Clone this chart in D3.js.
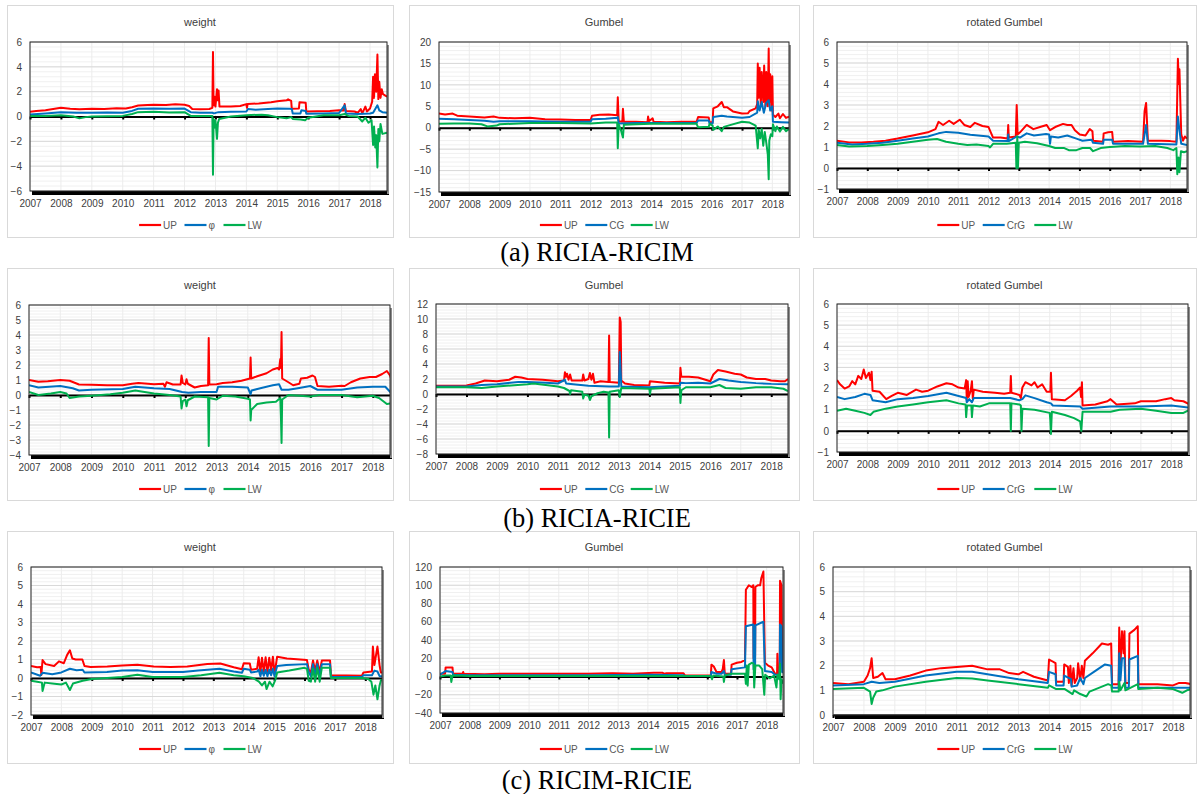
<!DOCTYPE html>
<html>
<head>
<meta charset="utf-8">
<script src="https://cdn.jsdelivr.net/npm/d3@7"></script>
<style>
  body { margin: 0; background: #fff; }
  svg { display: block; font-family: "Liberation Sans", Arial, sans-serif; }
</style>
</head>
<body>
<svg id="fig" width="1198" height="794"></svg>
<script>
// ---------- data: [year, value] ----------
// (a) RICIA-RICIM, weight
var aWeightUP = [[2007,0.38],[2007.2,0.45],[2007.5,0.5],[2007.8,0.62],[2008,0.7],[2008.3,0.62],[2008.6,0.58],[2009,0.62],[2009.4,0.6],[2009.8,0.66],[2010.1,0.64],[2010.3,0.75],[2010.5,0.88],[2010.8,0.92],[2011,0.95],[2011.4,0.92],[2011.7,0.98],[2012,0.95],[2012.15,0.85],[2012.25,0.6],[2012.5,0.58],[2012.8,0.6],[2012.9,0.7],[2012.92,5.2],[2012.94,0.9],[2012.97,1.6],[2013.0,0.8],[2013.05,2.2],[2013.08,1.3],[2013.1,2.1],[2013.13,0.8],[2013.5,0.8],[2013.8,0.85],[2014,1.0],[2014.02,0.7],[2014.04,1.0],[2014.4,1.05],[2014.8,1.15],[2015,1.22],[2015.3,1.3],[2015.35,1.38],[2015.45,1.25],[2015.47,0.62],[2015.7,0.65],[2015.72,1.15],[2015.92,1.1],[2015.94,0.4],[2016.3,0.42],[2016.7,0.45],[2017,0.5],[2017.15,0.48],[2017.18,1.0],[2017.22,0.45],[2017.5,0.4],[2017.6,0.3],[2017.7,0.6],[2017.75,0.25],[2017.85,0.8],[2017.9,0.4],[2018,0.65],[2018.07,1.2],[2018.1,3.2],[2018.13,1.5],[2018.16,3.4],[2018.2,2.0],[2018.24,5.0],[2018.27,1.4],[2018.3,2.8],[2018.34,1.5],[2018.38,2.2],[2018.42,1.8],[2018.55,1.6]];
var aWeightPhi = [[2007,0.16],[2007.5,0.25],[2008,0.35],[2008.5,0.3],[2009,0.3],[2009.5,0.32],[2010,0.3],[2010.3,0.45],[2010.5,0.62],[2011,0.65],[2011.5,0.62],[2012,0.64],[2012.2,0.35],[2012.5,0.3],[2012.9,0.3],[2012.95,0.25],[2013.1,0.35],[2013.5,0.38],[2014,0.4],[2014.05,0.6],[2014.3,0.55],[2014.7,0.6],[2015,0.65],[2015.4,0.62],[2015.47,0.6],[2015.5,0.24],[2015.75,0.25],[2015.78,0.5],[2015.92,0.45],[2015.94,0.22],[2016.5,0.25],[2017,0.28],[2017.18,0.9],[2017.22,0.25],[2017.6,0.2],[2018,0.25],[2018.1,0.3],[2018.24,0.9],[2018.3,0.5],[2018.4,0.35],[2018.55,0.3]];
var aWeightLW = [[2007,0.05],[2007.5,0.05],[2008,0.1],[2008.4,0.0],[2008.6,-0.15],[2008.8,-0.05],[2009,0.0],[2009.5,0.02],[2010,0.05],[2010.3,0.2],[2010.5,0.35],[2011,0.38],[2011.5,0.32],[2012,0.35],[2012.2,0.05],[2012.5,0.05],[2012.9,0.05],[2012.92,-4.7],[2012.94,-0.2],[2012.97,-0.9],[2013.0,-0.3],[2013.05,-1.8],[2013.08,-0.5],[2013.12,-0.2],[2013.5,0.0],[2014,0.1],[2014.5,0.15],[2014.7,0.1],[2015,-0.05],[2015.3,-0.15],[2015.45,-0.05],[2015.5,-0.2],[2015.75,-0.25],[2015.9,-0.3],[2016,-0.1],[2016.5,0.1],[2017,0.1],[2017.18,0.2],[2017.3,0.05],[2017.6,0.0],[2017.75,-0.4],[2017.85,-0.1],[2017.95,-0.5],[2018.05,-0.3],[2018.1,-2.3],[2018.13,-0.8],[2018.17,-2.5],[2018.2,-1.5],[2018.24,-4.1],[2018.27,-1.0],[2018.3,-2.0],[2018.34,-0.6],[2018.4,-1.4],[2018.55,-1.3]];

// (a) RICIA-RICIM, Gumbel
var aGumbelUP = [[2007,3.3],[2007.2,3.1],[2007.45,3.3],[2007.6,2.8],[2008,2.6],[2008.5,2.4],[2008.8,2.6],[2009,2.3],[2009.5,2.2],[2010,2.3],[2010.5,2.0],[2011,1.9],[2011.5,1.8],[2012,1.8],[2012.05,2.8],[2012.3,3.0],[2012.6,3.1],[2012.88,2.9],[2012.9,7.1],[2012.93,1.5],[2013.05,1.4],[2013.07,4.4],[2013.1,1.4],[2013.5,1.4],[2013.88,1.3],[2013.9,2.6],[2013.93,1.5],[2014.05,2.2],[2014.08,1.4],[2014.5,1.3],[2015,1.4],[2015.5,1.4],[2015.55,2.5],[2015.9,2.4],[2015.93,1.3],[2016.03,1.3],[2016.05,4.5],[2016.2,5.0],[2016.33,6.0],[2016.4,4.8],[2016.5,4.8],[2016.7,3.8],[2017,3.3],[2017.2,3.4],[2017.25,3.9],[2017.45,4.5],[2017.5,5.5],[2017.52,15],[2017.55,7],[2017.58,14],[2017.62,5],[2017.65,13],[2017.7,6],[2017.73,14.5],[2017.77,5],[2017.8,13],[2017.85,5],[2017.88,18.5],[2017.9,6],[2017.93,12.5],[2017.97,4],[2018.0,12],[2018.02,3],[2018.1,2.5],[2018.2,3.3],[2018.25,2.2],[2018.35,3.2],[2018.45,2.3],[2018.55,2.6]];
var aGumbelCG = [[2007,2.1],[2007.5,2.0],[2008,1.8],[2008.5,1.6],[2008.8,1.4],[2009,1.5],[2010,1.5],[2011,1.4],[2012,1.4],[2012.05,2.0],[2012.5,2.1],[2012.88,2.3],[2012.9,2.5],[2012.93,1.0],[2013.5,1.1],[2014,1.1],[2015,1.1],[2015.5,1.1],[2015.55,1.7],[2015.9,1.7],[2015.93,1.0],[2016.03,1.0],[2016.05,2.5],[2016.33,2.8],[2016.5,2.6],[2017,2.3],[2017.25,2.5],[2017.5,3.5],[2017.52,6.2],[2017.58,4],[2017.65,6],[2017.72,3.5],[2017.8,5.8],[2017.88,6.4],[2017.93,4],[2018.0,5],[2018.02,1.4],[2018.3,1.3],[2018.55,1.2]];
var aGumbelLW = [[2007,0.9],[2007.5,1.0],[2008,1.0],[2008.4,0.8],[2008.6,0.3],[2008.9,0.5],[2009,0.8],[2010,1.1],[2011,1.1],[2012,1.0],[2012.5,1.2],[2012.88,1.2],[2012.9,-4.8],[2012.93,0.8],[2013.0,-0.5],[2013.07,-2.3],[2013.1,0.7],[2013.5,0.8],[2014,0.9],[2015,0.9],[2015.5,0.9],[2015.55,0.1],[2015.9,0.2],[2015.93,0.9],[2016.03,0.5],[2016.05,-0.5],[2016.2,0.3],[2016.33,-0.8],[2016.4,0.2],[2016.6,0.6],[2017,1.4],[2017.25,1.2],[2017.45,0.5],[2017.52,-4.8],[2017.55,-0.5],[2017.6,-2.5],[2017.65,-0.3],[2017.7,-4.2],[2017.75,-1],[2017.8,-3.5],[2017.85,-6.2],[2017.88,-12],[2017.9,-3],[2017.95,-1.5],[2018.0,-2],[2018.02,0.8],[2018.1,-0.8],[2018.15,0.3],[2018.25,-0.9],[2018.35,0.2],[2018.45,-0.8],[2018.55,-0.3]];

// (a) RICIA-RICIM, rotated Gumbel
var aRotUP = [[2007,1.3],[2007.4,1.22],[2007.8,1.22],[2008.2,1.25],[2008.6,1.3],[2009,1.4],[2009.5,1.55],[2010,1.7],[2010.25,1.85],[2010.35,2.2],[2010.5,2.05],[2010.7,2.25],[2010.85,2.1],[2011.05,2.3],[2011.2,2.05],[2011.4,1.95],[2011.55,2.15],[2011.8,2.0],[2012.0,1.95],[2012.15,1.45],[2012.4,1.45],[2012.63,1.4],[2012.65,2.05],[2012.67,1.45],[2012.9,1.5],[2012.93,3.0],[2012.96,1.6],[2013.04,1.7],[2013.26,2.05],[2013.48,1.85],[2013.7,1.95],[2013.92,2.05],[2014.03,1.8],[2014.2,1.95],[2014.46,2.1],[2014.6,2.05],[2014.74,2.05],[2014.85,1.8],[2015.01,1.6],[2015.2,1.55],[2015.34,1.85],[2015.43,1.75],[2015.45,1.3],[2015.78,1.25],[2015.8,1.65],[2015.95,1.7],[2016.08,1.72],[2016.11,1.25],[2016.6,1.28],[2017.1,1.25],[2017.15,2.7],[2017.2,3.1],[2017.26,1.3],[2017.7,1.3],[2018.0,1.28],[2018.2,1.25],[2018.25,5.2],[2018.28,4.0],[2018.3,4.7],[2018.36,1.6],[2018.42,1.3],[2018.48,1.5],[2018.55,1.4]];
var aRotCrG = [[2007,1.2],[2007.5,1.12],[2008,1.15],[2008.5,1.2],[2009,1.3],[2009.5,1.4],[2010,1.5],[2010.35,1.65],[2010.6,1.72],[2011,1.68],[2011.4,1.58],[2012,1.5],[2012.15,1.3],[2012.63,1.28],[2012.65,1.6],[2012.67,1.28],[2012.93,1.5],[2013.04,1.45],[2013.26,1.65],[2013.5,1.55],[2013.9,1.62],[2014.0,1.6],[2014.03,1.15],[2014.06,1.5],[2014.3,1.45],[2014.6,1.55],[2014.9,1.4],[2015.1,1.3],[2015.4,1.35],[2015.45,1.2],[2015.78,1.15],[2015.8,1.35],[2016.08,1.35],[2016.11,1.15],[2017.1,1.15],[2017.2,2.05],[2017.26,1.15],[2018.2,1.12],[2018.25,2.45],[2018.3,1.8],[2018.36,1.15],[2018.55,1.1]];
var aRotLW = [[2007,1.1],[2007.4,1.02],[2008,1.05],[2008.5,1.1],[2009,1.15],[2009.5,1.25],[2010,1.35],[2010.3,1.38],[2010.6,1.25],[2011,1.15],[2011.3,1.1],[2011.6,1.12],[2012,1.05],[2012.05,0.98],[2012.15,1.15],[2012.6,1.15],[2012.9,1.2],[2012.92,0.0],[2012.95,1.5],[2012.97,0.0],[2013.0,1.2],[2013.2,1.25],[2013.6,1.18],[2014,1.05],[2014.2,0.95],[2014.5,0.95],[2014.65,0.85],[2014.9,0.85],[2015.1,0.95],[2015.35,0.95],[2015.45,0.8],[2015.7,0.95],[2016,1.0],[2016.5,1.05],[2017,1.02],[2017.5,1.05],[2017.9,0.95],[2018.1,0.85],[2018.2,0.95],[2018.23,-0.3],[2018.27,0.5],[2018.3,-0.2],[2018.35,0.8],[2018.45,0.75],[2018.55,0.8]];

// (b) RICIA-RICIE, weight
var bWeightUP = [[2007,1.0],[2007.3,0.88],[2007.6,0.92],[2008,1.0],[2008.3,0.95],[2008.6,0.7],[2009,0.68],[2009.5,0.65],[2010,0.65],[2010.3,0.75],[2010.5,0.8],[2011,0.72],[2011.3,0.75],[2011.35,0.55],[2011.4,0.85],[2011.6,0.7],[2011.85,0.7],[2011.88,1.3],[2011.92,0.8],[2012.0,0.7],[2012.04,1.05],[2012.08,0.75],[2012.3,0.5],[2012.5,0.6],[2012.73,0.65],[2012.75,3.8],[2012.77,0.7],[2013,0.72],[2013.2,0.8],[2013.5,0.85],[2013.8,0.95],[2014.07,1.1],[2014.09,2.5],[2014.11,1.1],[2014.3,1.25],[2014.6,1.45],[2014.8,1.7],[2014.95,1.8],[2015.0,1.7],[2015.04,2.4],[2015.06,1.8],[2015.08,4.2],[2015.1,1.1],[2015.3,0.85],[2015.45,0.65],[2015.65,0.75],[2015.7,1.1],[2015.9,1.15],[2016.07,1.3],[2016.15,1.2],[2016.23,0.6],[2016.6,0.55],[2017,0.62],[2017.1,0.6],[2017.3,0.85],[2017.6,1.1],[2017.9,1.2],[2018.1,1.2],[2018.3,1.4],[2018.45,1.6],[2018.55,1.3],[2018.6,1.0]];
var bWeightPhi = [[2007,0.65],[2007.3,0.5],[2008,0.6],[2008.4,0.45],[2008.6,0.3],[2009,0.35],[2010,0.4],[2010.4,0.55],[2011,0.45],[2011.5,0.4],[2011.9,0.2],[2012.1,0.15],[2012.5,0.2],[2013.0,0.2],[2013.05,0.55],[2013.5,0.55],[2014.0,0.5],[2014.09,0.05],[2014.12,0.3],[2014.4,0.45],[2014.8,0.65],[2015.0,0.72],[2015.08,0.35],[2015.3,0.35],[2015.6,0.45],[2016.0,0.6],[2016.23,0.35],[2017.0,0.35],[2017.5,0.5],[2018.0,0.55],[2018.4,0.55],[2018.6,0.1]];
var bWeightLW = [[2007,0.2],[2007.3,0.0],[2007.7,0.1],[2008,0.2],[2008.2,0.1],[2008.3,-0.2],[2008.6,-0.1],[2009,-0.05],[2009.6,0.05],[2010,0.15],[2010.4,0.3],[2011,0.1],[2011.5,0.0],[2011.85,-0.1],[2011.88,-0.9],[2011.92,-0.4],[2012.0,-0.3],[2012.04,-0.75],[2012.08,-0.35],[2012.3,-0.1],[2012.73,-0.15],[2012.75,-3.4],[2012.77,-0.2],[2013.0,-0.3],[2013.2,-0.05],[2013.6,-0.1],[2014.0,-0.25],[2014.07,-0.3],[2014.09,-1.7],[2014.11,-1.0],[2014.3,-0.6],[2014.6,-0.5],[2014.9,-0.45],[2015.04,-0.2],[2015.06,-1.4],[2015.08,-3.2],[2015.1,-0.3],[2015.3,0.0],[2016,-0.1],[2016.3,0.0],[2017,0.0],[2017.5,-0.15],[2018,-0.05],[2018.2,-0.2],[2018.45,-0.6],[2018.6,-0.55]];

// (b) RICIA-RICIE, Gumbel
var bGumbelUP = [[2007,1.1],[2007.5,1.1],[2008,1.15],[2008.3,1.4],[2008.6,1.8],[2009,1.7],[2009.4,1.9],[2009.6,2.3],[2009.8,2.2],[2010,2.0],[2010.5,1.9],[2011,1.7],[2011.2,1.8],[2011.23,2.9],[2011.27,2.3],[2011.3,2.7],[2011.35,1.9],[2011.4,2.6],[2011.45,1.8],[2011.8,1.8],[2011.83,2.6],[2011.87,1.8],[2012.0,2.0],[2012.05,2.8],[2012.1,1.9],[2012.15,2.7],[2012.2,1.5],[2012.4,1.7],[2012.66,1.6],[2012.68,7.8],[2012.7,1.6],[2013.0,1.5],[2013.03,10.2],[2013.06,9.6],[2013.08,1.8],[2013.2,1.4],[2013.5,1.2],[2014.0,1.15],[2014.02,1.7],[2014.5,1.5],[2015.0,1.4],[2015.02,3.5],[2015.05,2.3],[2015.3,2.3],[2015.6,2.2],[2016,1.7],[2016.1,2.6],[2016.25,3.2],[2016.5,3.0],[2016.8,2.7],[2017.0,2.6],[2017.2,2.2],[2017.5,2.0],[2017.8,2.0],[2018.0,1.8],[2018.3,1.7],[2018.45,1.7],[2018.55,2.0]];
var bGumbelCG = [[2007,1.0],[2008,1.0],[2008.5,1.2],[2009,1.3],[2009.7,1.6],[2010,1.6],[2010.6,1.5],[2011,1.4],[2011.23,1.9],[2011.27,1.4],[2011.5,1.3],[2012,1.1],[2012.68,1.0],[2013.0,1.0],[2013.03,5.6],[2013.06,3.0],[2013.08,1.0],[2014,0.9],[2014.5,1.0],[2015,1.1],[2015.02,1.5],[2015.2,1.45],[2015.6,1.5],[2016,1.4],[2016.3,2.0],[2016.6,1.8],[2017,1.6],[2017.5,1.45],[2018,1.35],[2018.55,1.3]];
var bGumbelLW = [[2007,0.9],[2008,0.9],[2008.5,0.8],[2009,1.0],[2010,1.3],[2010.2,1.4],[2010.6,1.2],[2011,1.0],[2011.2,0.8],[2011.38,0.4],[2011.4,0.0],[2011.43,0.5],[2011.8,0.3],[2011.83,-0.6],[2011.87,-0.1],[2012.0,-0.2],[2012.05,-0.8],[2012.1,-0.3],[2012.3,0.1],[2012.5,0.3],[2012.66,0.2],[2012.68,-5.8],[2012.7,0.3],[2013.0,0.5],[2013.03,-0.4],[2013.08,0.8],[2014,0.7],[2014.02,0.0],[2014.05,0.7],[2015,0.9],[2015.02,-1.2],[2015.05,0.5],[2015.2,0.9],[2016,0.9],[2016.3,1.2],[2016.5,0.8],[2017,0.7],[2017.5,0.9],[2018,0.9],[2018.4,0.7],[2018.55,0.4]];

// (b) RICIA-RICIE, rotated Gumbel
var bRotUP = [[2007,2.4],[2007.1,2.2],[2007.25,2.0],[2007.4,2.1],[2007.5,2.35],[2007.6,2.2],[2007.7,2.6],[2007.8,2.45],[2007.88,2.9],[2007.95,2.5],[2008.05,2.75],[2008.1,2.4],[2008.14,2.8],[2008.17,1.9],[2008.4,1.85],[2008.62,1.5],[2008.8,1.65],[2009.0,1.8],[2009.3,1.7],[2009.6,1.95],[2009.8,1.85],[2010.0,1.9],[2010.3,2.1],[2010.6,2.25],[2010.8,2.2],[2011.0,2.05],[2011.2,2.0],[2011.25,2.4],[2011.27,1.5],[2011.3,2.35],[2011.33,1.6],[2011.4,1.9],[2011.44,2.35],[2011.47,1.5],[2011.5,1.95],[2011.8,1.85],[2012.2,1.8],[2012.5,1.75],[2012.7,1.8],[2012.72,2.6],[2012.74,1.8],[2013.0,1.7],[2013.05,1.55],[2013.1,2.05],[2013.2,2.3],[2013.4,2.15],[2013.5,2.3],[2013.6,2.05],[2013.75,2.2],[2013.9,1.85],[2014.02,1.85],[2014.04,2.75],[2014.07,1.5],[2014.5,1.45],[2014.7,1.65],[2014.9,1.9],[2015.0,2.05],[2015.03,1.6],[2015.06,2.3],[2015.08,1.2],[2015.5,1.25],[2015.9,1.4],[2016.0,1.5],[2016.2,1.25],[2016.8,1.3],[2017.0,1.4],[2017.5,1.4],[2017.8,1.5],[2018.0,1.55],[2018.1,1.45],[2018.4,1.4],[2018.6,1.25]];
var bRotCrG = [[2007,1.6],[2007.25,1.5],[2007.6,1.6],[2007.9,1.75],[2008.1,1.7],[2008.17,1.45],[2008.6,1.35],[2009,1.5],[2009.5,1.55],[2010,1.65],[2010.6,1.8],[2011,1.65],[2011.25,1.55],[2011.27,1.35],[2011.35,1.5],[2011.44,1.35],[2011.5,1.55],[2012,1.55],[2012.7,1.55],[2013,1.45],[2013.1,1.5],[2013.2,1.68],[2013.5,1.55],[2013.9,1.35],[2014.04,1.3],[2014.1,1.2],[2015,1.15],[2015.08,1.05],[2016,1.15],[2017,1.15],[2018,1.2],[2018.6,1.1]];
var bRotLW = [[2007,0.95],[2007.3,1.05],[2007.6,0.95],[2007.9,0.85],[2008.1,0.75],[2008.2,0.9],[2008.6,1.05],[2009,1.15],[2009.5,1.25],[2010,1.35],[2010.6,1.45],[2011,1.3],[2011.23,1.25],[2011.25,0.65],[2011.28,1.2],[2011.42,1.2],[2011.44,0.65],[2011.47,1.2],[2011.7,1.15],[2012,1.3],[2012.7,1.3],[2012.72,0.0],[2012.74,1.3],[2013.0,1.25],[2013.05,1.2],[2013.07,0.0],[2013.1,1.05],[2013.5,1.0],[2014.0,0.85],[2014.02,0.5],[2014.04,-0.15],[2014.07,0.9],[2014.5,0.75],[2014.8,0.6],[2015.0,0.45],[2015.04,0.0],[2015.08,0.9],[2016,0.9],[2016.3,1.0],[2017,1.05],[2017.5,0.95],[2018,0.85],[2018.4,0.85],[2018.6,1.0]];

// (c) RICIM-RICIE, weight
var cWeightUP = [[2007,0.65],[2007.2,0.58],[2007.32,0.6],[2007.34,0.16],[2007.38,0.97],[2007.48,0.75],[2007.76,0.65],[2007.92,0.9],[2008.08,0.8],[2008.19,1.25],[2008.28,1.5],[2008.36,1.05],[2008.47,1.0],[2008.69,1.0],[2008.76,0.65],[2008.96,0.6],[2009.51,0.62],[2010.0,0.68],[2010.5,0.72],[2011.04,0.62],[2011.59,0.6],[2012.14,0.62],[2012.8,0.76],[2013.23,0.78],[2013.67,0.58],[2013.94,0.47],[2014.0,0.8],[2014.2,0.78],[2014.24,0.45],[2014.44,0.5],[2014.49,1.12],[2014.55,0.3],[2014.6,1.1],[2014.66,0.35],[2014.72,1.12],[2014.78,0.3],[2014.84,1.1],[2014.9,0.4],[2014.96,1.15],[2015.01,0.3],[2015.04,0.5],[2015.1,1.15],[2015.42,1.05],[2016.08,0.97],[2016.14,0.45],[2016.21,0.3],[2016.28,0.95],[2016.35,0.4],[2016.42,0.95],[2016.5,0.3],[2016.57,0.95],[2016.84,0.95],[2016.87,0.15],[2017.89,0.12],[2017.94,0.3],[2018.22,0.35],[2018.25,1.7],[2018.3,0.7],[2018.36,1.3],[2018.4,1.7],[2018.47,0.7],[2018.51,0.3],[2018.55,0.3]];
var cWeightPhi = [[2007,0.3],[2007.3,0.12],[2007.38,0.28],[2007.7,0.2],[2008.0,0.3],[2008.28,0.5],[2008.5,0.42],[2008.7,0.45],[2008.76,0.3],[2009.5,0.32],[2010,0.4],[2010.5,0.42],[2011,0.32],[2012,0.32],[2012.5,0.4],[2013.2,0.5],[2013.67,0.35],[2013.94,0.28],[2014.0,0.5],[2014.2,0.45],[2014.24,0.3],[2014.44,0.35],[2014.49,0.45],[2014.55,0.1],[2014.6,0.45],[2014.66,0.12],[2014.72,0.45],[2014.78,0.1],[2014.84,0.45],[2014.9,0.15],[2014.96,0.5],[2015.01,0.1],[2015.1,0.65],[2015.4,0.7],[2016.08,0.75],[2016.14,0.3],[2016.21,0.1],[2016.28,0.75],[2016.35,0.1],[2016.42,0.75],[2016.5,0.1],[2016.57,0.75],[2016.84,0.75],[2016.87,0.05],[2017.89,0.05],[2017.94,0.15],[2018.22,0.15],[2018.3,0.4],[2018.4,0.35],[2018.47,0.1],[2018.55,0.1]];
var cWeightLW = [[2007,-0.15],[2007.2,-0.2],[2007.36,-0.25],[2007.38,-0.7],[2007.45,-0.25],[2007.7,-0.3],[2008.0,-0.35],[2008.15,-0.25],[2008.28,-0.65],[2008.38,-0.3],[2008.7,-0.15],[2009.0,-0.05],[2010,0.05],[2010.5,0.18],[2011,0.05],[2012,0.05],[2012.6,0.15],[2013.2,0.28],[2013.67,0.15],[2014.0,0.1],[2014.3,0.0],[2014.5,-0.2],[2014.6,-0.4],[2014.7,-0.2],[2014.75,-0.6],[2014.85,-0.2],[2014.95,-0.45],[2015.04,-0.1],[2015.1,0.3],[2015.5,0.4],[2016.0,0.55],[2016.08,0.5],[2016.14,-0.15],[2016.21,-0.2],[2016.28,0.5],[2016.35,-0.2],[2016.42,0.55],[2016.5,-0.2],[2016.57,0.55],[2016.84,0.55],[2016.87,0.0],[2017.89,0.0],[2018.1,-0.05],[2018.2,-0.2],[2018.27,-0.9],[2018.33,-0.4],[2018.4,-1.15],[2018.47,-0.4],[2018.52,-0.1],[2018.55,-0.15]];

// (c) RICIM-RICIE, Gumbel
var cGumbelUP = [[2007,3],[2007.17,3],[2007.19,10],[2007.42,10],[2007.44,3],[2007.76,3],[2007.78,5],[2007.8,3],[2008.5,2.5],[2009,3],[2010,3],[2011,3],[2012,3],[2012.8,3.5],[2013.5,3],[2014.2,4],[2014.5,4],[2014.55,3],[2014.63,3.5],[2015.2,3.5],[2015.25,1],[2016.12,1],[2016.14,13],[2016.22,11],[2016.31,5],[2016.48,5],[2016.52,8],[2016.56,18],[2016.59,3],[2016.8,3],[2016.82,13],[2017.0,15],[2017.15,16],[2017.27,18],[2017.3,95],[2017.4,100],[2017.5,98],[2017.55,100],[2017.56,20],[2017.61,22],[2017.62,98],[2017.7,100],[2017.78,100],[2017.82,108],[2017.89,115],[2017.94,15],[2018.05,12],[2018.17,10],[2018.28,3],[2018.35,3],[2018.36,25],[2018.38,3],[2018.44,3],[2018.45,105],[2018.5,100],[2018.52,15],[2018.55,8]];
var cGumbelCG = [[2007,2],[2007.19,6],[2007.42,5],[2007.44,2],[2008,1.5],[2010,1.5],[2012,1.5],[2014,1.8],[2015.2,1.5],[2015.25,0.5],[2016.12,0.5],[2016.14,5],[2016.31,3],[2016.48,3],[2016.56,6],[2016.59,2],[2016.8,2],[2016.82,8],[2017.27,10],[2017.3,55],[2017.55,57],[2017.56,8],[2017.61,9],[2017.62,56],[2017.89,60],[2017.94,6],[2018.17,5],[2018.28,2],[2018.44,2],[2018.45,57],[2018.5,55],[2018.52,5],[2018.55,4]];
var cGumbelLW = [[2007,0],[2007.2,1],[2007.36,1],[2007.38,-6],[2007.42,1],[2008,0.5],[2010,0.5],[2012,0.5],[2014,0.5],[2016.12,0.5],[2016.16,-3],[2016.2,1],[2016.54,0],[2016.56,-6],[2016.59,1],[2016.82,3],[2017.27,3],[2017.3,-8],[2017.33,12],[2017.36,-10],[2017.4,13],[2017.5,15],[2017.56,14],[2017.58,-12],[2017.62,12],[2017.75,12],[2017.85,8],[2017.92,-20],[2017.95,2],[2018.1,-2],[2018.25,1],[2018.33,-12],[2018.36,2],[2018.42,-3],[2018.45,14],[2018.47,-25],[2018.5,-3],[2018.55,-8]];

// (c) RICIM-RICIE, rotated Gumbel
var cRotUP = [[2007,1.3],[2007.5,1.25],[2008,1.35],[2008.12,1.6],[2008.2,1.9],[2008.25,2.3],[2008.3,1.5],[2008.45,1.55],[2008.6,1.7],[2008.7,1.45],[2009,1.45],[2009.5,1.6],[2010,1.8],[2010.5,1.9],[2011,1.95],[2011.5,2.0],[2012,1.85],[2012.4,1.85],[2012.7,1.7],[2013,1.65],[2013.15,1.75],[2013.5,1.55],[2013.95,1.4],[2013.99,2.25],[2014.2,2.1],[2014.22,1.35],[2014.46,1.35],[2014.48,2.05],[2014.6,1.95],[2014.63,1.3],[2014.68,2.0],[2014.72,1.2],[2014.78,1.9],[2014.82,1.3],[2014.9,1.5],[2014.93,2.1],[2015.0,1.4],[2015.05,2.0],[2015.1,1.5],[2015.15,2.2],[2015.4,2.5],[2015.7,2.9],[2015.9,2.85],[2016.0,2.9],[2016.03,1.25],[2016.24,1.25],[2016.26,3.55],[2016.3,2.0],[2016.35,3.4],[2016.4,2.5],[2016.43,3.4],[2016.46,1.3],[2016.57,1.3],[2016.59,3.3],[2016.75,3.45],[2016.86,3.6],[2016.88,1.25],[2017.5,1.25],[2018,1.2],[2018.2,1.3],[2018.4,1.3],[2018.6,1.25]];
var cRotCrG = [[2007,1.2],[2008,1.25],[2008.25,1.35],[2008.5,1.3],[2009,1.35],[2010,1.6],[2011,1.75],[2011.5,1.75],[2012,1.65],[2013,1.45],[2013.95,1.3],[2013.99,1.75],[2014.2,1.65],[2014.22,1.2],[2014.46,1.2],[2014.48,1.6],[2014.7,1.45],[2014.72,1.15],[2014.9,1.2],[2015,1.5],[2015.1,1.25],[2015.15,1.5],[2015.5,1.8],[2015.8,2.05],[2016.0,2.0],[2016.03,1.1],[2016.24,1.1],[2016.26,2.5],[2016.3,1.4],[2016.35,2.3],[2016.43,2.3],[2016.46,1.1],[2016.57,1.1],[2016.59,2.25],[2016.86,2.4],[2016.88,1.1],[2018,1.1],[2018.6,1.1]];
var cRotLW = [[2007,1.05],[2008,1.1],[2008.2,0.95],[2008.25,0.45],[2008.3,0.7],[2008.4,0.95],[2008.6,1.0],[2009,1.15],[2010,1.35],[2011,1.5],[2011.5,1.48],[2012,1.4],[2013,1.25],[2013.95,1.1],[2013.99,1.2],[2014.22,1.05],[2014.5,1.05],[2014.75,0.85],[2014.8,1.0],[2015,0.85],[2015.2,0.75],[2015.3,0.95],[2015.5,1.05],[2015.9,1.25],[2016.0,1.2],[2016.03,0.95],[2016.24,0.95],[2016.26,1.35],[2016.3,1.0],[2016.43,1.3],[2016.46,1.0],[2016.86,1.25],[2016.88,1.05],[2017.5,1.1],[2018,1.05],[2018.3,0.9],[2018.45,1.0],[2018.6,1.05]];

var years = d3.range(2007, 2019)
var captions = ["(a) RICIA-RICIM", "(b) RICIA-RICIE", "(c) RICIM-RICIE"]
var colors = ["#ff0000", "#0070c0", "#00b050"]
var xEnd = 2018.55

// ---------- layout ----------
var rows = [
    { top: 5, bottom: 237, title: 26, legend: 225, caption: 261 },
    { top: 268, bottom: 500, title: 289, legend: 489, caption: 527 },
    { top: 531, bottom: 763, title: 551, legend: 749, caption: 789 }
]
var cols = [{ left: 7, right: 393 }, { left: 409, right: 799 }, { left: 813, right: 1196 }]

var panels = [
    { row: 0, col: 0, title: "weight", names: ["UP", "φ", "LW"], series: [aWeightUP, aWeightPhi, aWeightLW], y: [-6, 6], step: 2, l: 30, r: 387, t: 42, b: 191 },
    { row: 0, col: 1, title: "Gumbel", names: ["UP", "CG", "LW"], series: [aGumbelUP, aGumbelCG, aGumbelLW], y: [-15, 20], step: 5, l: 439, r: 789, t: 42, b: 192 },
    { row: 0, col: 2, title: "rotated Gumbel", names: ["UP", "CrG", "LW"], series: [aRotUP, aRotCrG, aRotLW], y: [-1, 6], step: 1, l: 837, r: 1187, t: 42, b: 189 },
    { row: 1, col: 0, title: "weight", names: ["UP", "φ", "LW"], series: [bWeightUP, bWeightPhi, bWeightLW], y: [-4, 6], step: 1, l: 29, r: 390, t: 305, b: 455 },
    { row: 1, col: 1, title: "Gumbel", names: ["UP", "CG", "LW"], series: [bGumbelUP, bGumbelCG, bGumbelLW], y: [-8, 12], step: 2, l: 436, r: 788, t: 304, b: 454 },
    { row: 1, col: 2, title: "rotated Gumbel", names: ["UP", "CrG", "LW"], series: [bRotUP, bRotCrG, bRotLW], y: [-1, 6], step: 1, l: 837, r: 1188, t: 304, b: 452 },
    { row: 2, col: 0, title: "weight", names: ["UP", "φ", "LW"], series: [cWeightUP, cWeightPhi, cWeightLW], y: [-2, 6], step: 1, l: 31, r: 382, t: 567, b: 715 },
    { row: 2, col: 1, title: "Gumbel", names: ["UP", "CG", "LW"], series: [cGumbelUP, cGumbelCG, cGumbelLW], y: [-40, 120], step: 20, l: 440, r: 783, t: 567, b: 713 },
    { row: 2, col: 2, title: "rotated Gumbel", names: ["UP", "CrG", "LW"], series: [cRotUP, cRotCrG, cRotLW], y: [0, 6], step: 1, l: 833, r: 1190, t: 567, b: 715 }
]

var svg = d3.select("#fig")

panels.forEach(function (p, i) {
    var row = rows[p.row], col = cols[p.col]
    var g = svg.append("g")
    var cx = (col.left + col.right) / 2

    // frame of the whole chart
    g.append("rect")
        .attr("x", col.left + 0.5).attr("y", row.top + 0.5)
        .attr("width", col.right - col.left).attr("height", row.bottom - row.top)
        .attr("fill", "#fff").attr("stroke", "#d9d9d9")

    g.append("text")
        .attr("x", cx).attr("y", row.title)
        .attr("text-anchor", "middle")
        .style("font-size", "11px").attr("fill", "#404040")
        .text(p.title)

    var xScale = d3.scaleLinear().domain([2007, xEnd]).range([p.l, p.r])
    var yScale = d3.scaleLinear().domain(p.y).range([p.b, p.t])
    var majors = d3.range(p.y[0], p.y[1] + p.step / 2, p.step)
    var minors = d3.range(p.y[0], p.y[1] + 1e-9, p.step / 5)

    // grid
    g.append("g").selectAll("line").data(minors).enter().append("line")
        .attr("x1", p.l).attr("x2", p.r)
        .attr("y1", d => yScale(d)).attr("y2", d => yScale(d))
        .attr("stroke", "#f0f0f0")
    g.append("g").selectAll("line").data(years).enter().append("line")
        .attr("x1", d => xScale(d)).attr("x2", d => xScale(d))
        .attr("y1", p.t).attr("y2", p.b)
        .attr("stroke", "#ececec")
    g.append("g").selectAll("line").data(majors).enter().append("line")
        .attr("x1", p.l).attr("x2", p.r)
        .attr("y1", d => yScale(d)).attr("y2", d => yScale(d))
        .attr("stroke", "#d9d9d9")

    // zero line with year ticks
    var zeroAxis = g.append("g")
        .attr("transform", "translate(0," + yScale(0) + ")")
        .call(d3.axisBottom(xScale).tickValues(years).tickSize(3).tickSizeOuter(0).tickFormat(""))
    zeroAxis.select(".domain").attr("stroke", "#000").attr("stroke-width", 2)
    zeroAxis.selectAll(".tick line").attr("stroke", "#000").attr("stroke-width", 2)

    // series
    g.append("clipPath").attr("id", "clip" + i)
        .append("rect").attr("x", p.l).attr("y", p.t).attr("width", p.r - p.l).attr("height", p.b - p.t)
    var line = d3.line().x(d => xScale(d[0])).y(d => yScale(d[1]))
    g.append("g").attr("clip-path", "url(#clip" + i + ")")
        .selectAll("path").data(p.series).enter().append("path")
        .attr("d", line)
        .attr("fill", "none")
        .attr("stroke", (d, k) => colors[k])
        .attr("stroke-width", 2)
        .attr("stroke-linejoin", "round")

    // plot border + shadow
    g.append("rect")
        .attr("x", p.l + 2).attr("y", p.b)
        .attr("width", p.r - p.l).attr("height", 4)
        .attr("fill", "#000")
    g.append("rect")
        .attr("x", p.r).attr("y", p.t + 3)
        .attr("width", 2).attr("height", p.b - p.t)
        .attr("fill", "#8c8c8c")
    g.append("rect")
        .attr("x", p.l).attr("y", p.t)
        .attr("width", p.r - p.l).attr("height", p.b - p.t)
        .attr("fill", "none").attr("stroke", "#262626").attr("stroke-width", 1)

    // axes labels
    var yAxis = g.append("g")
        .attr("transform", "translate(" + p.l + ",0)")
        .call(d3.axisLeft(yScale).tickValues(majors).tickFormat(d3.format("d")).tickSize(0).tickPadding(8))
    var xAxis = g.append("g")
        .attr("transform", "translate(0," + p.b + ")")
        .call(d3.axisBottom(xScale).tickValues(years).tickFormat(d3.format("d")).tickSize(0).tickPadding(9))
    ;[yAxis, xAxis].forEach(function (ax) {
        ax.select(".domain").remove()
        ax.selectAll("text").attr("fill", "#404040").style("font-size", "10px").style("font-family", "Liberation Sans, Arial, sans-serif")
    })

    // legend
    var widths = p.names.map(n => 22 + 3 + (n.length > 1 ? n.length * 6.2 : 6))
    var gap = 8
    var total = d3.sum(widths) + gap * (widths.length - 1)
    var lx = cx - total / 2
    p.names.forEach(function (n, k) {
        g.append("line")
            .attr("x1", lx).attr("x2", lx + 22)
            .attr("y1", row.legend).attr("y2", row.legend)
            .attr("stroke", colors[k]).attr("stroke-width", 2.2)
        g.append("text")
            .attr("x", lx + 24).attr("y", row.legend + 3.5)
            .style("font-size", "10px").attr("fill", "#595959")
            .text(n)
        lx += widths[k] + gap
    })
})

rows.forEach(function (row, k) {
    svg.append("text")
        .attr("x", 597).attr("y", row.caption)
        .attr("text-anchor", "middle")
        .style("font-family", "'Liberation Serif', 'Times New Roman', serif")
        .style("font-size", "26.5px").attr("fill", "#000")
        .text(captions[k])
})
</script>
</body>
</html>
